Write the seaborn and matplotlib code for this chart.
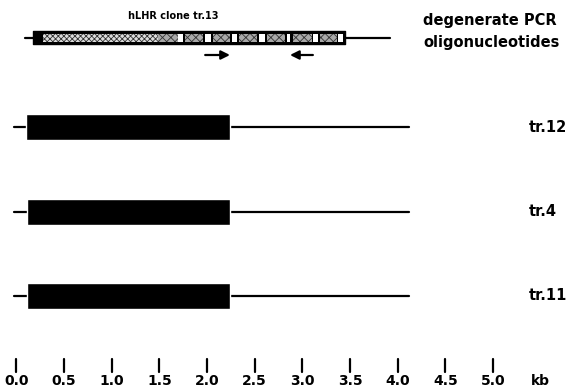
import matplotlib
matplotlib.use("Agg")
import matplotlib.pyplot as plt
import seaborn as sns
import pandas as pd

# Data (kb)
scale_ticks = [0.0, 0.5, 1.0, 1.5, 2.0, 2.5, 3.0, 3.5, 4.0, 4.5, 5.0]

clone_name = "hLHR clone tr.13"
clone_line = [0.09, 3.92]
clone_box = [0.17, 3.45]
seg_start = [0.17, 0.28, 1.48, 1.69, 1.77, 1.98, 2.06, 2.26, 2.33, 2.54, 2.63, 2.84, 2.90, 3.11, 3.18, 3.37]
seg_end = [0.28, 1.48, 1.69, 1.75, 1.96, 2.04, 2.24, 2.31, 2.52, 2.61, 2.82, 2.87, 3.10, 3.16, 3.36, 3.43]
seg_kind = ["black", "light", "dark", "white", "dark", "white", "dark", "white",
            "dark", "white", "dark", "white", "dark", "white", "dark", "white"]

# primer arrows: (tail, head)
primer_fwd = [1.98, 2.24]
primer_rev = [3.11, 2.87]

clones = ["tr.12", "tr.4", "tr.11"]
clone_line_start = [-0.03, -0.03, -0.03]
clone_line_end = [4.12, 4.12, 4.12]
clone_box_start = [0.10, 0.11, 0.11]
clone_box_end = [2.24, 2.24, 2.24]

sns.set_theme(style="white")
plt.rcParams["font.family"] = ["DejaVu Sans"]
plt.rcParams["text.color"] = "black"
plt.rcParams["hatch.linewidth"] = 0.6

fig = plt.figure(figsize=(5.76, 3.87), dpi=100)
ax = fig.add_axes([0, 0, 1, 1])
ax.set_xlim(-0.173, 5.871)
ax.set_ylim(387, 0)
ax.axis("off")

# --- connecting lines for all clones ---
top_y = 37.5
lines = pd.DataFrame({"x": clone_line, "y": [top_y, top_y], "row": "tr.13"})
for i, name in enumerate(clones):
    y = 127 + i * 84.5
    lines = pd.concat([lines, pd.DataFrame({"x": [clone_line_start[i], clone_line_end[i]],
                                            "y": [y, y], "row": name})])
sns.lineplot(data=lines, x="x", y="y", units="row", estimator=None,
             color="black", lw=1.6, ax=ax, legend=False)

# --- top clone tr.13 with exon blocks ---
ax.broken_barh([(clone_box[0], clone_box[1] - clone_box[0])], (31, 13),
               facecolors="black", edgecolor="black", zorder=3)
styles = {
    "light": dict(facecolor="#dcdcdc", hatch="xxxxxx"),
    "dark": dict(facecolor="#a8a8a8", hatch="xxxx"),
    "white": dict(facecolor="white", hatch=None),
}
for s, e, k in zip(seg_start, seg_end, seg_kind):
    if k == "black":
        continue
    st = styles[k]
    ax.broken_barh([(s, e - s)], (33.5, 8.5), facecolors=st["facecolor"],
                   edgecolor="#333333" if st["hatch"] else "white",
                   hatch=st["hatch"], lw=0, zorder=4)

ax.text(1.64, 16, clone_name, ha="center", va="center", fontsize=7,
        fontweight="bold", color="black")

for tail, head in [primer_fwd, primer_rev]:
    ax.annotate("", xy=(head, 55), xytext=(tail, 55),
                arrowprops=dict(arrowstyle="-|>", color="black", lw=1.6,
                                mutation_scale=13, shrinkA=0, shrinkB=0))

ax.text(4.27, 20, "degenerate PCR", ha="left", va="center", fontsize=10.5,
        fontweight="bold", color="black")
ax.text(4.27, 43, "oligonucleotides", ha="left", va="center", fontsize=10.5,
        fontweight="bold", color="black")

# --- isolated clones ---
for i, name in enumerate(clones):
    y = 127 + i * 84.5
    ax.broken_barh([(clone_box_start[i], clone_box_end[i] - clone_box_start[i])],
                   (y - 13, 26), facecolors="black", zorder=3)
    ax.text(5.37, y, name, ha="left", va="center", fontsize=10.5,
            fontweight="bold", color="black")

# --- scale bar ---
for t in scale_ticks:
    ax.plot([t, t], [359, 372], color="black", lw=1.6)
    ax.text(t, 381, f"{t:.1f}", ha="center", va="center", fontsize=10,
            fontweight="bold", color="black")
ax.text(5.50, 381, "kb", ha="center", va="center", fontsize=10,
        fontweight="bold", color="black")

fig.savefig("out.png", dpi=100)
